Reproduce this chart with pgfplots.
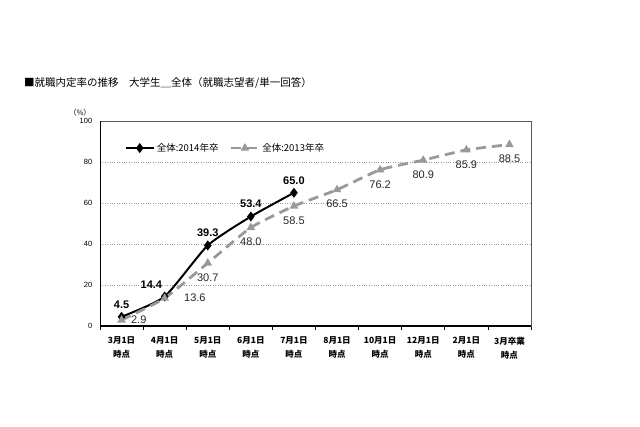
\documentclass[border=0pt]{standalone}
\usepackage{fontspec}
\setmainfont{Liberation Sans}
\newfontfamily\jp{Noto Sans CJK JP}
\usepackage{pgfplots}
\pgfplotsset{compat=1.18}
\definecolor{dgray}{HTML}{999999}
\begin{document}
\begin{tikzpicture}
\path[use as bounding box] (0pt,0pt) rectangle (640pt,-426pt);
\node[anchor=west, inner sep=0, font=\jp\fontsize{10.5}{12}\selectfont] at (24pt,-83pt) {■就職内定率の推移　大学生＿全体（就職志望者/単一回答）};
\node[inner sep=0, font=\jp\fontsize{7.5}{8}\selectfont] at (80pt,-113pt) {（\%）};
\begin{axis}[
  at={(100pt,-326pt)}, anchor=south west, scale only axis,
  width=431pt, height=205pt,
  xmin=-0.5, xmax=9.5, ymin=0, ymax=100,
  ytick={0,20,...,100},
  /pgf/number format/assume math mode=true,
  yticklabel style={font=\fontsize{7.5}{8}\selectfont, /pgf/number format/precision=0},
  ytick pos=left, ytick style={draw=none},
  ymajorgrids, grid style={dotted, gray!80},
  xtick={0,...,9},
  xticklabels={{3月1日\\時点},{4月1日\\時点},{5月1日\\時点},{6月1日\\時点},{7月1日\\時点},{8月1日\\時点},{10月1日\\時点},{12月1日\\時点},{2月1日\\時点},{3月卒業\\時点}},
  xticklabel style={font=\jp\bfseries\fontsize{8.5}{14}\selectfont, align=center, yshift=-3pt},
  major x tick style={draw=none},
  minor xtick={-0.5,0.5,...,9.5},
  minor tick length=4pt, tick align=outside, xtick pos=bottom,
  minor x tick style={black, line width=0.8pt},
  axis line style={gray!70!black, line width=0.6pt},
  legend style={at={(0.057,0.868)}, anchor=west, draw=none, fill=none, inner sep=0pt,
    font=\jp\fontsize{9.5}{11}\selectfont, legend columns=2,
    /tikz/every even column/.append style={column sep=9pt}},
  legend image code/.code={\draw[mark repeat=2, mark phase=2, #1] plot coordinates {(0pt,0pt) (14pt,0pt) (28pt,0pt)};},
  labA/.style={forget plot, draw=none, mark=none, nodes near coords,
    /pgf/number format/.cd, fixed, fixed zerofill, precision=1, /pgfplots/.cd,
    every node near coord/.append style={font=\bfseries\fontsize{11}{12}\selectfont, black}},
  labB/.style={forget plot, draw=none, mark=none, nodes near coords,
    /pgf/number format/.cd, fixed, fixed zerofill, precision=1, /pgfplots/.cd,
    every node near coord/.append style={font=\fontsize{11}{12}\selectfont, black!85}},
]
\addplot[black, line width=2pt, smooth, tension=0.35, mark=diamond*, mark size=3.4pt, mark options={solid}]
  coordinates {(0,4.5) (1,14.4) (2,39.3) (3,53.4) (4,65.0)};
\addlegendentry{全体:2014年卒}
\addplot[dgray, line width=2.8pt, dash pattern=on 10pt off 6pt, smooth, tension=0.35, mark=triangle*, mark size=2.2pt, mark options={solid}]
  coordinates {(0,2.9) (1,13.6) (2,30.7) (3,48.0) (4,58.5) (5,66.5) (6,76.2) (7,80.9) (8,85.9) (9,88.5)};
\addlegendentry{全体:2013年卒}
% data labels
\addplot[labA, every node near coord/.append style={anchor=south, yshift=5pt}]
  coordinates {(0,4.5) (2,39.3) (3,53.4) (4,65.0)};
\addplot[labA, every node near coord/.append style={anchor=south east, xshift=1pt, yshift=4pt}]
  coordinates {(1,14.4)};
\addplot[labB, every node near coord/.append style={anchor=west, xshift=6pt}]
  coordinates {(0,2.9)};
\addplot[labB, every node near coord/.append style={anchor=west, xshift=16pt}]
  coordinates {(1,13.6)};
\addplot[labB, every node near coord/.append style={anchor=north, yshift=-7pt}]
  coordinates {(2,30.7) (3,48.0) (4,58.5) (5,66.5) (6,76.2) (7,80.9) (8,85.9) (9,88.5)};
\draw[black, line width=1.3pt] (rel axis cs:0,1) -- (rel axis cs:0,0) -- (rel axis cs:1,0);
\end{axis}
\end{tikzpicture}
\end{document}
